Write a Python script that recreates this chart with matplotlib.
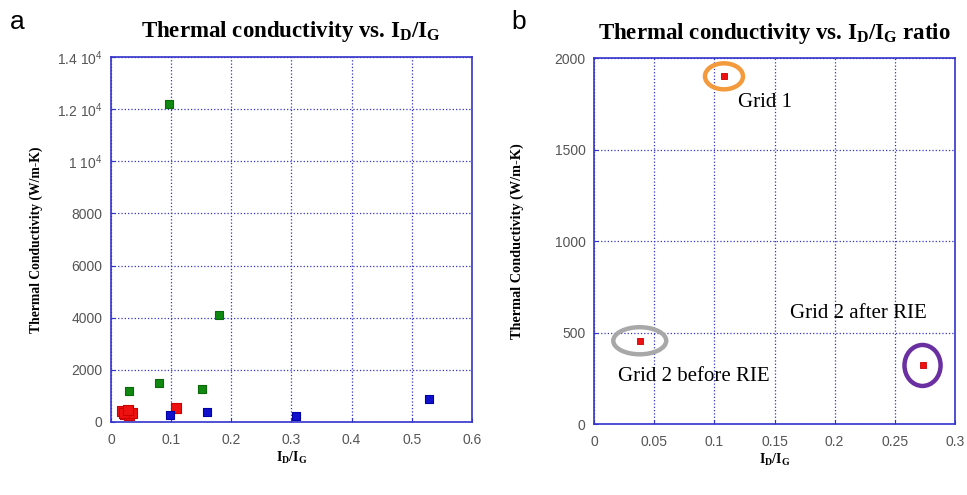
import matplotlib.pyplot as plt
from matplotlib.patches import Ellipse
from matplotlib.ticker import FixedLocator, FixedFormatter

# panel a: thermal conductivity vs ID/IG, grouped by colour
green_x = [0.097, 0.180, 0.080, 0.030, 0.152]
green_y = [12200, 4100, 1480, 1180, 1280]
red_x = [0.018, 0.024, 0.030, 0.035, 0.021, 0.028, 0.108]
red_y = [420, 300, 260, 330, 350, 460, 550]
blue_x = [0.098, 0.160, 0.308, 0.528]
blue_y = [270, 380, 240, 880]

# panel b: three grids
grid_x = [0.108, 0.038, 0.273]
grid_y = [1900, 455, 320]
grid_names = ["Grid 1", "Grid 2 before RIE", "Grid 2 after RIE"]

left_yticks = [0, 2000, 4000, 6000, 8000, 10000, 12000, 14000]
left_ylabels = ["0", "2000", "4000", "6000", "8000",
                r"1 10$^{\mathsf{4}}$", r"1.2 10$^{\mathsf{4}}$",
                r"1.4 10$^{\mathsf{4}}$"]
left_xticks = [0, 0.1, 0.2, 0.3, 0.4, 0.5, 0.6]
right_xticks = [0, 0.05, 0.1, 0.15, 0.2, 0.25, 0.3]
right_yticks = [0, 500, 1000, 1500, 2000]

axis_blue = "#3333cc"
serif = "Liberation Serif"
sans = "Liberation Sans"
plt.rcParams["mathtext.fontset"] = "custom"
plt.rcParams["mathtext.rm"] = serif
plt.rcParams["mathtext.bf"] = serif + ":bold"
plt.rcParams["mathtext.sf"] = sans

title_left = r"Thermal conductivity vs. I$_{\mathbf{D}}$/I$_{\mathbf{G}}$"
title_right = title_left + " ratio"
xlab = r"I$_{\mathbf{D}}$/I$_{\mathbf{G}}$"


def style_axes(ax):
    for s in ax.spines.values():
        s.set_color(axis_blue)
        s.set_linewidth(1.2)
    ax.grid(True, color=axis_blue, linestyle=":", linewidth=0.9)
    ax.tick_params(direction="in", color=axis_blue, length=3,
                   labelsize=10, labelcolor="#555555")
    for lbl in ax.get_xticklabels() + ax.get_yticklabels():
        lbl.set_family(sans)
    ax.tick_params(axis="x", pad=8)
    ax.tick_params(axis="y", pad=6)


fig = plt.figure(figsize=(9.67, 4.95), dpi=100)

# --- panel a ---
ax1 = fig.add_axes([0.1148, 0.1475, 0.3732, 0.7375])
ax1.scatter(green_x, green_y, marker="s", s=30, c="#118811",
            edgecolors="#0a6a0a", linewidths=0.8, zorder=3)
ax1.scatter(red_x, red_y, marker="s", s=55, c="#ee1111",
            edgecolors="#cc0000", linewidths=0.8, zorder=3)
ax1.scatter(blue_x, blue_y, marker="s", s=30, c="#1111cc",
            edgecolors="#0000aa", linewidths=0.8, zorder=3)
ax1.set_xlim(0, 0.6)
ax1.set_ylim(0, 14000)
ax1.xaxis.set_major_locator(FixedLocator(left_xticks))
ax1.yaxis.set_major_locator(FixedLocator(left_yticks))
ax1.yaxis.set_major_formatter(FixedFormatter(left_ylabels))
ax1.set_xticklabels([f"{t:g}" for t in left_xticks])
style_axes(ax1)
ax1.set_title(title_left, family=serif, fontweight="bold",
              fontsize=16.5, pad=14)
ax1.set_ylabel("Thermal Conductivity (W/m-K)", family=serif,
               fontweight="bold", fontsize=9.8, labelpad=10)
ax1.set_xlabel(xlab, family=serif, fontweight="bold", fontsize=10,
               labelpad=2)

# --- panel b ---
ax2 = fig.add_axes([0.6143, 0.1434, 0.3733, 0.7394])
ax2.scatter(grid_x, grid_y, marker="s", s=22, c="#ee1111",
            edgecolors="#cc0000", linewidths=0.6, zorder=4)
ring_colors = ["#f39a3c", "#a8a8a8", "#6a2fa0"]
ring_sizes = [(0.0316, 142), (0.044, 148), (0.030, 224)]
for x, y, col, (w, h) in zip(grid_x, grid_y, ring_colors, ring_sizes):
    ax2.add_patch(Ellipse((x, y), w, h, fill=False, edgecolor=col,
                          linewidth=3.2, zorder=3))
ax2.text(0.1197, 1758, grid_names[0], family=serif, fontsize=15,
         va="center", ha="left")
ax2.text(0.020, 257, grid_names[1], family=serif, fontsize=15,
         va="center", ha="left")
ax2.text(0.163, 606, grid_names[2], family=serif, fontsize=15,
         va="center", ha="left")
ax2.set_xlim(0, 0.3)
ax2.set_ylim(0, 2000)
ax2.xaxis.set_major_locator(FixedLocator(right_xticks))
ax2.yaxis.set_major_locator(FixedLocator(right_yticks))
ax2.set_xticklabels([f"{t:g}" for t in right_xticks])
ax2.set_yticklabels([str(t) for t in right_yticks])
style_axes(ax2)
ax2.set_title(title_right, family=serif, fontweight="bold",
              fontsize=16.5, pad=14)
ax2.set_ylabel("Thermal Conductivity (W/m-K)", family=serif,
               fontweight="bold", fontsize=10.3, labelpad=22)
ax2.set_xlabel(xlab, family=serif, fontweight="bold", fontsize=10,
               labelpad=2)

fig.text(0.010, 0.955, "a", family=sans, fontsize=19, va="center")
fig.text(0.529, 0.955, "b", family=sans, fontsize=19, va="center")

fig.savefig("out.png", dpi=100)
